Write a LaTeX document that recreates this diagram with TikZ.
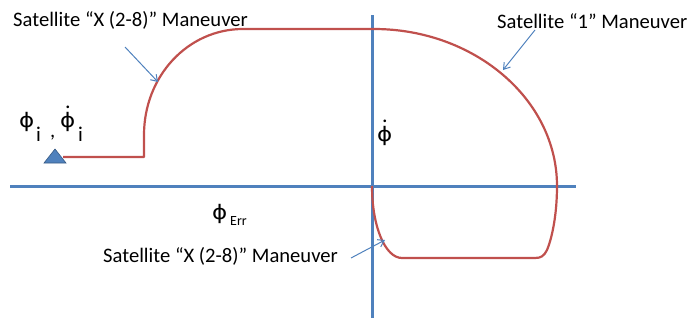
\documentclass[tikz,border=0pt]{standalone}
\usepackage{fontspec}
\usepackage{graphicx}
\setmainfont{Carlito}
\newfontfamily\phifont{DejaVu Sans}
\usetikzlibrary{arrows.meta}
\definecolor{axisblue}{RGB}{79,129,189}
\definecolor{curvered}{RGB}{192,80,77}
\newcommand\phisym{\scalebox{1.15}[1]{\phifont ϕ}}
\newcommand\phidotsym{\leavevmode\setbox0\hbox{\phisym}\rlap{\hbox to\wd0{\hss\raisebox{\dimexpr\ht0+3pt\relax}{\fontsize{22}{22}\selectfont .}\hss}}\box0}
\begin{document}
\begin{tikzpicture}[x=1pt,y=-1pt,
  lbl/.style={font=\fontsize{20.6}{24}\selectfont, inner sep=0pt, anchor=base west},
  sym/.style={font=\fontsize{20}{24}\selectfont, inner sep=0pt, anchor=base west},
  subi/.style={font=\fontsize{21}{24}\selectfont, inner sep=0pt, anchor=base west},
  sube/.style={font=\fontsize{14}{16}\selectfont, inner sep=0pt, anchor=base west},
  axis/.style={draw=axisblue, line width=3pt},
  curve/.style={draw=curvered, line width=2.2pt, line join=round},
  pointer/.style={draw=axisblue, line width=1pt, -{Straight Barb[length=6pt,width=8pt]}}]
\useasboundingbox (0,0) rectangle (688,324);
% axes
\coordinate (xl) at (10,186);
\coordinate (xr) at (576,186);
\coordinate (yt) at (372,15);
\coordinate (yb) at (372,318);
\draw[axis] (xl) -- (xr);
\draw[axis] (yt) -- (yb);
% start marker
\coordinate (s1) at (44,163);
\coordinate (s2) at (55,149);
\coordinate (s3) at (66,163);
\filldraw[fill=axisblue, draw=axisblue!70!black, line width=0.6pt] (s1) -- (s2) -- (s3) -- cycle;
% trajectory
\coordinate (p0) at (63,157);
\draw[curve] (p0) -- (144,157) -- (144,135)
  .. controls (144,76) and (188,29) .. (243,29)
  -- (374,29)
  .. controls (474,29) and (557,99) .. (557,186)
  .. controls (557,215) and (552,238) .. (547,250)
  .. controls (544,256) and (541,258) .. (535,258)
  -- (402,258)
  .. controls (385,258) and (372,226) .. (372,186);
% labels
\node[lbl] (la) at (13,27) {Satellite “X (2-8)” Maneuver};
\node[lbl] (lb) at (497,28) {Satellite “1” Maneuver};
\node[lbl] (lc) at (103,262) {Satellite “X (2-8)” Maneuver};
% initial state label
\node[sym] (phii) at (19,127) {\phisym};
\node[subi] (subi1) at (36,141) {i};
\node[lbl] (comma) at (50,137) {,};
\node[sym] (phidi) at (60,127) {\phidotsym};
\node[subi] (subi2) at (78,141) {i};
% axis labels
\node[sym] (rate) at (377,141) {\phidotsym};
\node[sym] (err) at (212,219) {\phisym};
\node[sube] (errsub) at (230,225) {Err};
% pointers
\coordinate (aa0) at (125,47);
\coordinate (aa1) at (158,82);
\coordinate (ab0) at (535,30);
\coordinate (ab1) at (503,70);
\coordinate (ac0) at (351,258);
\coordinate (ac1) at (385,240);
\draw[pointer] (aa0) -- (aa1);
\draw[pointer] (ab0) -- (ab1);
\draw[pointer] (ac0) -- (ac1);
\end{tikzpicture}
\end{document}
